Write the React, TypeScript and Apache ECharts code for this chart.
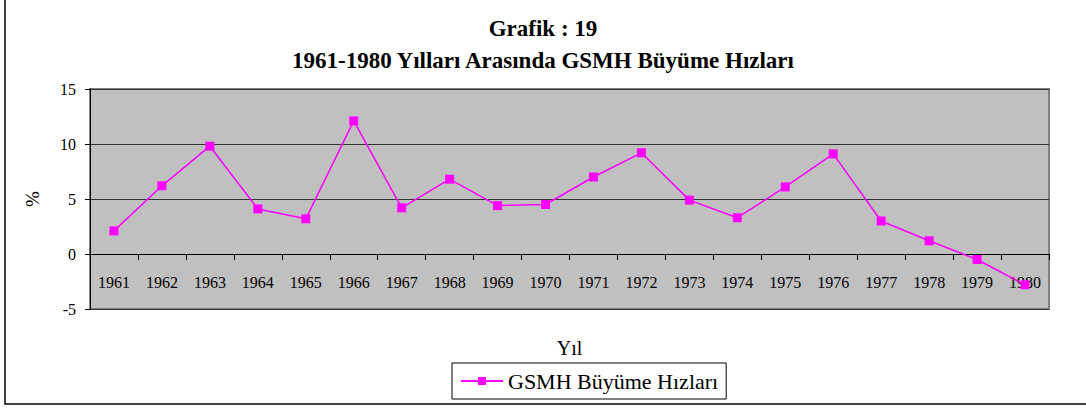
import React, { useEffect, useRef } from "react";
import * as echarts from "echarts";

const categories = ["1961","1962","1963","1964","1965","1966","1967","1968","1969","1970","1971","1972","1973","1974","1975","1976","1977","1978","1979","1980"];
const growthValues = [2.1, 6.2, 9.8, 4.1, 3.2, 12.1, 4.2, 6.8, 4.4, 4.5, 7.0, 9.2, 4.9, 3.3, 6.1, 9.1, 3.0, 1.2, -0.5, -2.8];
const seriesName = "GSMH Büyüme Hızları";
const titleLines = ["Grafik : 19", "1961-1980 Yılları Arasında GSMH Büyüme Hızları"];
const yAxisName = "%";
const xAxisName = "Yıl";

const FONT = "'Liberation Serif', 'Times New Roman', serif";

export default function App() {
  const ref = useRef<HTMLDivElement>(null);
  useEffect(() => {
    if (!ref.current) return;
    const chart = echarts.init(ref.current, null, { renderer: "svg" });
    chart.setOption({
      animation: false,
      backgroundColor: "#ffffff",
      textStyle: { fontFamily: FONT },
      title: {
        text: titleLines.join("\n"),
        left: "center",
        top: 12,
        padding: 0,
        textStyle: { fontFamily: FONT, fontSize: 23, fontWeight: "bold", color: "#000", lineHeight: 32 },
      },
      graphic: [
        { type: "rect", shape: { x: 5, y: -5, width: 1090, height: 409 }, style: { fill: "none", stroke: "#000", lineWidth: 1.5 }, silent: true, z: -10 },
      ],
      grid: { left: 90, top: 89, right: 37, bottom: 99, outerBoundsMode: "none", containLabel: false, show: true, backgroundColor: "#C0C0C0", borderColor: "#808080", borderWidth: 2 },
      legend: {
        data: [seriesName],
        bottom: 9,
        left: 452,
        itemWidth: 42,
        itemHeight: 10,
        padding: [7, 8, 7, 8],
        borderColor: "#000",
        borderWidth: 1,
        borderRadius: 0,
        backgroundColor: "#fff",
        textStyle: { fontFamily: FONT, fontSize: 22, color: "#000" },
      },
      xAxis: {
        type: "category",
        data: categories,
        name: xAxisName,
        nameLocation: "middle",
        nameGap: 84,
        nameMoveOverlap: false,
        nameTextStyle: { fontFamily: FONT, fontSize: 20, color: "#000" },
        offset: -55,
        axisLine: { onZero: false, lineStyle: { color: "#000", width: 1 } },
        axisTick: { show: true, length: 6, lineStyle: { color: "#000" } },
        axisLabel: { fontFamily: FONT, fontSize: 16, color: "#000", margin: 20, interval: 0 },
      },
      yAxis: {
        type: "value",
        min: -5,
        max: 15,
        interval: 5,
        name: yAxisName,
        nameLocation: "middle",
        nameGap: 48,
        nameRotate: 90,
        nameMoveOverlap: false,
        nameTextStyle: { fontFamily: FONT, fontSize: 19, color: "#000" },
        axisLine: { show: true, lineStyle: { color: "#000", width: 1 } },
        axisTick: { show: true, length: 5, lineStyle: { color: "#000" } },
        axisLabel: { fontFamily: FONT, fontSize: 16, color: "#000", margin: 14 },
        splitLine: { show: true, lineStyle: { color: "#333", width: 1.2 } },
      },
      series: [
        {
          name: seriesName,
          type: "line",
          data: growthValues,
          symbol: "rect",
          symbolSize: 9,
          itemStyle: { color: "#FF00FF" },
          lineStyle: { color: "#FF00FF", width: 1.5 },
        },
      ],
    });
    return () => chart.dispose();
  }, []);
  return <div ref={ref} style={{ position: "absolute", left: 0, top: 0, width: 1086, height: 408 }} />;
}
